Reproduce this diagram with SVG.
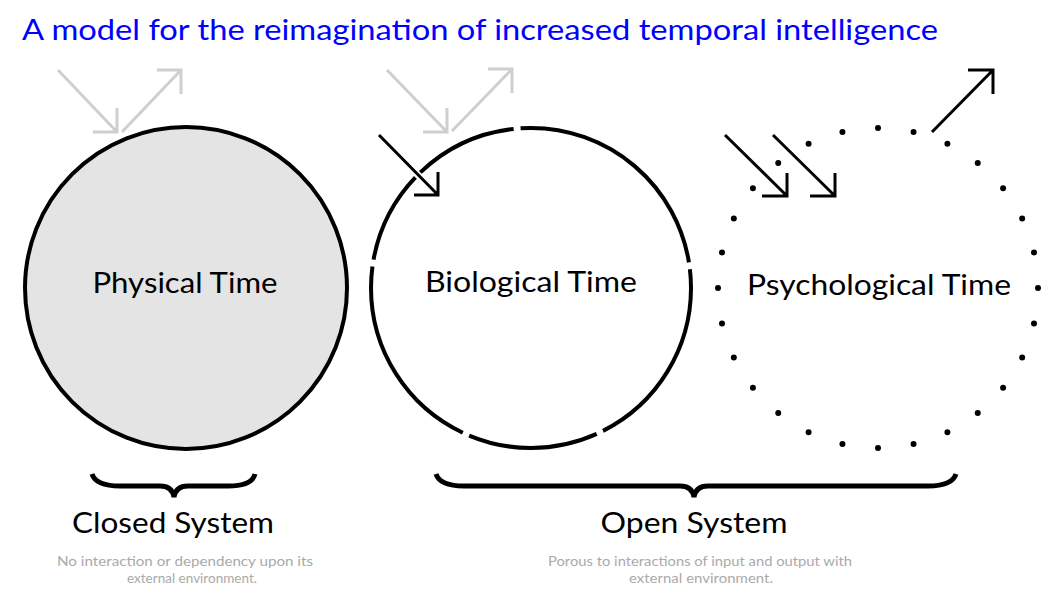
<svg xmlns="http://www.w3.org/2000/svg" width="1060" height="597" viewBox="0 0 1060 597">
<style>
.t{font-family:Lato,"Open Sans",sans-serif}
.lbl{font-size:28px;fill:#000;text-anchor:middle}
.sys{font-size:28px;fill:#000;text-anchor:middle}
.desc{font-size:12.5px;fill:#aaa;text-anchor:middle}
.c{fill:none;stroke:#000;stroke-width:4}
.ga{fill:none;stroke:#cfcfcf;stroke-width:3}
.ba{fill:none;stroke:#000;stroke-width:3}
.br{fill:none;stroke:#000;stroke-width:5}
</style>
<rect width="1060" height="597" fill="#fff"/>
<text class="t" x="22" y="40" font-size="28" fill="#0000ff" textLength="916" lengthAdjust="spacingAndGlyphs">A model for the reimagination of increased temporal intelligence</text>
<g id="physical">
<circle cx="186" cy="288" r="161" fill="#e4e4e4" stroke="#000" stroke-width="4"/>
<text class="t lbl" x="185" y="293" textLength="185" lengthAdjust="spacingAndGlyphs">Physical Time</text>
</g>
<g id="biological">
<circle class="c" cx="531" cy="288" r="160" pathLength="360" stroke-dasharray="63.25 2.5 47 2.5 72.5 2.5 33.5 2.5 37.5 2.5 84.5 2.5 6.75"/>
<text class="t lbl" x="531" y="292" textLength="212" lengthAdjust="spacingAndGlyphs">Biological Time</text>
</g>
<g id="psychological">
<circle cx="878" cy="288" r="160" fill="none" stroke="#000" stroke-width="6" stroke-linecap="round" pathLength="280" stroke-dasharray="0 10"/>
<text class="t lbl" x="879" y="295" textLength="264" lengthAdjust="spacingAndGlyphs">Psychological Time</text>
</g>
<g id="connectors">
<path class="ga" d="M58,70 L117,132 M93,132 H117 V108"/>
<path class="ga" d="M122,132 L181,70 M157,70 H181 V94"/>
<path class="ga" d="M387,70 L447,132 M423,132 H447 V108"/>
<path class="ga" d="M452,131 L512,69 M488,69 H512 V93"/>
<path class="ba" d="M379,135 L438,195 M414,195 H438 V172"/>
<path class="ba" d="M725,135 L787,196 M762,196 H787 V173"/>
<path class="ba" d="M773,135 L835,196 M810,196 H835 V173"/>
<path class="ba" d="M932,132 L993,70 M968,70 H993 V94"/>
</g>
<g id="closed-system">
<path class="br" d="M92,474 Q96,486 120,486 L160,486 Q172,486 174,497 Q176,486 188,486 L228,486 Q252,486 255,474"/>
<text class="t sys" x="173" y="533" textLength="202" lengthAdjust="spacingAndGlyphs">Closed System</text>
<text class="t desc" x="185" y="566" textLength="256" lengthAdjust="spacingAndGlyphs">No interaction or dependency upon its</text>
<text class="t desc" x="192" y="583" textLength="130" lengthAdjust="spacingAndGlyphs">external environment.</text>
</g>
<g id="open-system">
<path class="br" d="M436,474 Q440,486 464,486 L680,486 Q692,486 694,497 Q696,486 708,486 L928,486 Q952,486 956,474"/>
<text class="t sys" x="694" y="533" textLength="187" lengthAdjust="spacingAndGlyphs">Open System</text>
<text class="t desc" x="700" y="566" textLength="304" lengthAdjust="spacingAndGlyphs">Porous to interactions of input and output with</text>
<text class="t desc" x="701" y="583" textLength="144" lengthAdjust="spacingAndGlyphs">external environment.</text>
</g>
</svg>
